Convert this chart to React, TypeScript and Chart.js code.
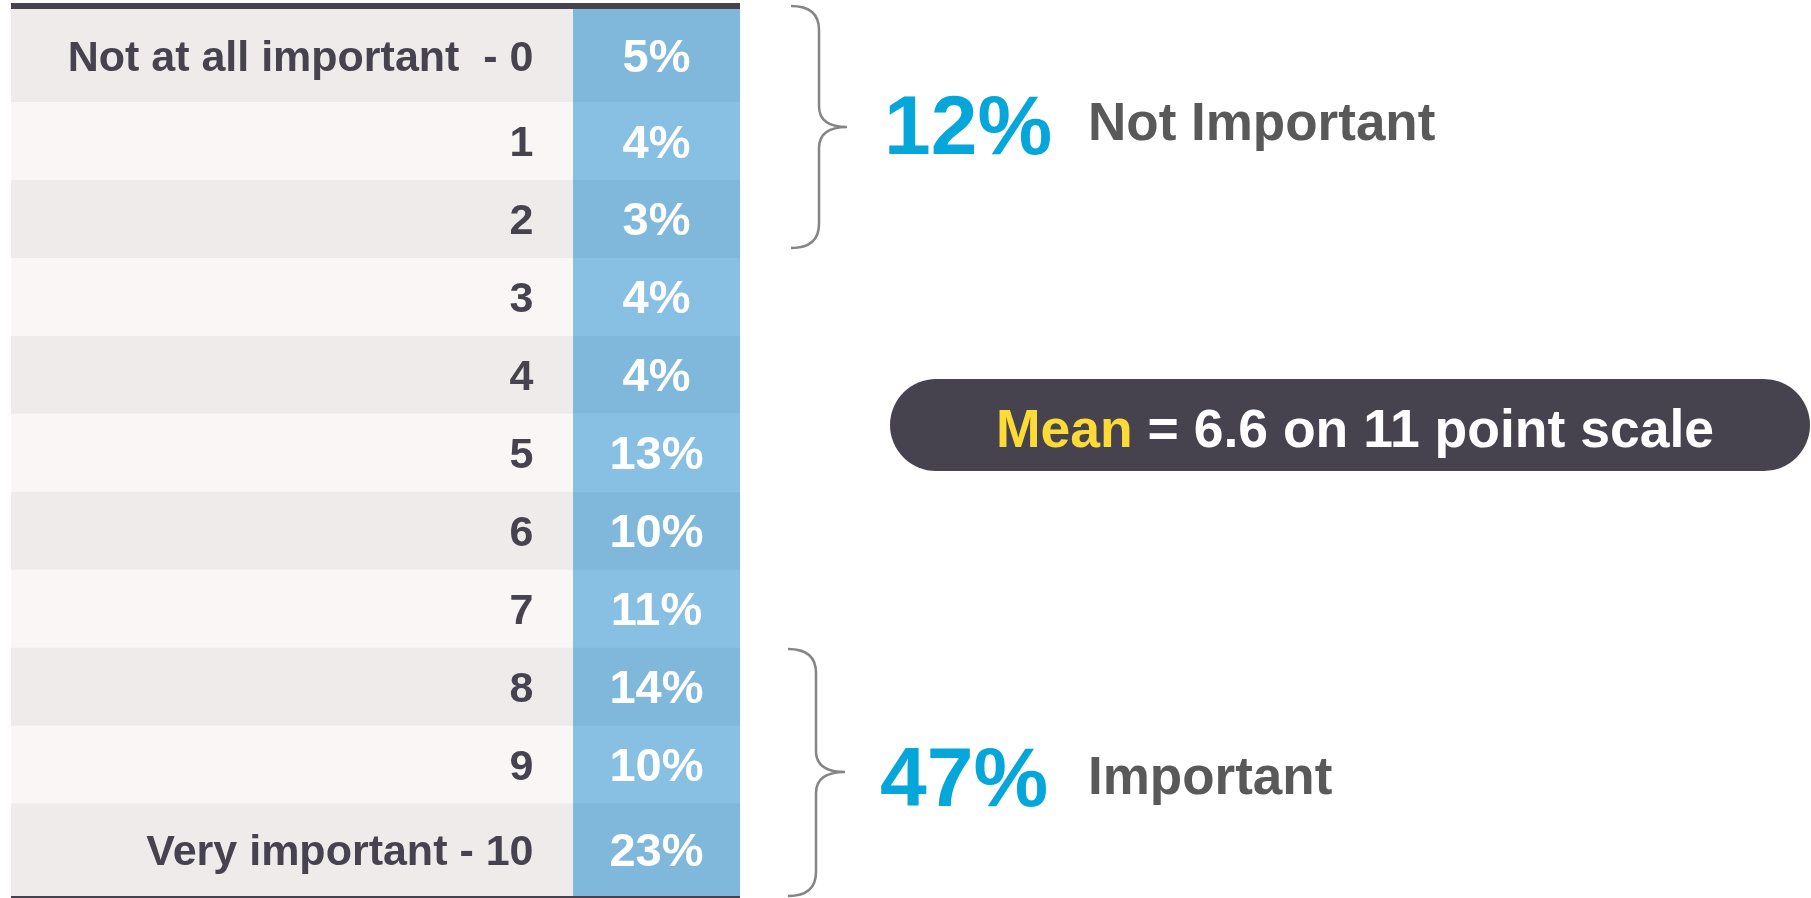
import React, { useEffect, useRef } from "react";
import { Chart, registerables } from "chart.js";

Chart.register(...registerables);

// ---- data ----
const SCALE_LABELS = [
  "Not at all important  - 0",
  "1",
  "2",
  "3",
  "4",
  "5",
  "6",
  "7",
  "8",
  "9",
  "Very important - 10",
];
const SCALE_POINTS = [0, 1, 2, 3, 4, 5, 6, 7, 8, 9, 10];
const SHARES = [5, 4, 3, 4, 4, 13, 10, 11, 14, 10, 23];
const NOT_IMPORTANT_POINTS = [0, 1, 2];
const IMPORTANT_POINTS = [8, 9, 10];
const MEAN_SCORE = 6.6;
const SCALE_SIZE = 11;

// ---- layout / style constants ----
const END_ROW_WEIGHT = 1.19;
const FONT_FAMILY = '"Liberation Sans", Arial, Helvetica, sans-serif';
const DARK = "#46434f";
const BLUE_TEXT = "#05a6da";
const GREY_TEXT = "#595959";
const TABLE_LEFT = 11;
const TABLE_TOP = 9;
const TABLE_HEIGHT = 887;
const LABEL_COL_W = 562;
const VALUE_COL_W = 167;

type ColumnProps = {
  texts: string[];
  fills: [string, string];
  align: "right" | "center";
  fontSize: number;
  textColor: string;
  inset: number;
  left: number;
  width: number;
};

function TableColumn({ texts, fills, align, fontSize, textColor, inset, left, width }: ColumnProps) {
  const ref = useRef<HTMLCanvasElement>(null);
  useEffect(() => {
    if (!ref.current) return;
    const n = texts.length;
    const weights = texts.map((_, i) => (i === 0 || i === n - 1 ? END_ROW_WEIGHT : 1));
    const bounds: number[] = [0];
    weights.forEach((w) => bounds.push(bounds[bounds.length - 1] + w));

    const textPlugin = {
      id: "cellText",
      afterDatasetsDraw(chart: any) {
        const c = chart.ctx as CanvasRenderingContext2D;
        const area = chart.chartArea;
        c.save();
        c.font = `bold ${fontSize}px ${FONT_FAMILY}`;
        c.fillStyle = textColor;
        c.textAlign = align;
        c.textBaseline = "alphabetic";
        chart.data.datasets.forEach((_: any, di: number) => {
          const el = chart.getDatasetMeta(di).data[0] as any;
          const cy = (el.y + el.base) / 2;
          const x = align === "right" ? area.right - inset : el.x;
          c.fillText(texts[di], x, cy + fontSize * 0.358);
        });
        c.restore();
      },
    };

    const chart = new Chart(ref.current, {
      type: "bar",
      data: {
        labels: [""],
        datasets: texts.map((t, i) => ({
          label: t,
          data: [[bounds[i], bounds[i + 1]]] as any,
          backgroundColor: fills[i % 2],
          borderWidth: 0,
          grouped: false,
          barPercentage: 1,
          categoryPercentage: 1,
        })),
      },
      options: {
        animation: false,
        responsive: false,
        maintainAspectRatio: false,
        events: [],
        layout: { padding: 0 },
        scales: {
          x: { display: false },
          y: { display: false, reverse: true, min: 0, max: bounds[n] },
        },
        plugins: { legend: { display: false }, tooltip: { enabled: false } },
      },
      plugins: [textPlugin],
    });
    return () => chart.destroy();
  }, []);
  return (
    <canvas
      ref={ref}
      width={width}
      height={TABLE_HEIGHT}
      style={{ position: "absolute", left, top: TABLE_TOP, width, height: TABLE_HEIGHT }}
    />
  );
}

export default function App() {
  useEffect(() => {
    document.body.style.overflow = "hidden";
  }, []);
  const sumFor = (pts: number[]) =>
    pts.reduce((s, p) => s + SHARES[SCALE_POINTS.indexOf(p)], 0);
  const notImportant = sumFor(NOT_IMPORTANT_POINTS);
  const important = sumFor(IMPORTANT_POINTS);

  return (
    <>
      <div style={{ position: "absolute", left: TABLE_LEFT, top: 3, width: LABEL_COL_W + VALUE_COL_W, height: 6, background: DARK }} />
      <TableColumn
        texts={SCALE_LABELS}
        fills={["#efebea", "#f9f6f5"]}
        align="right"
        fontSize={43}
        textColor={DARK}
        inset={39.5}
        left={TABLE_LEFT}
        width={LABEL_COL_W}
      />
      <TableColumn
        texts={SHARES.map((v) => `${v}%`)}
        fills={["#7fb8db", "#88c0e3"]}
        align="center"
        fontSize={47}
        textColor="#ffffff"
        inset={0}
        left={TABLE_LEFT + LABEL_COL_W}
        width={VALUE_COL_W}
      />
      <div style={{ position: "absolute", left: TABLE_LEFT, top: 896, width: LABEL_COL_W + VALUE_COL_W, height: 2, background: DARK }} />
      <svg
        width={1811}
        height={898}
        style={{ position: "absolute", left: 0, top: 0, pointerEvents: "none" }}
        fontFamily={FONT_FAMILY}
        fontWeight="bold"
      >
        <path
          d="M 791 6 Q 819 6 819 30 L 819 106 Q 819 127 847 127 Q 819 127 819 148 L 819 224 Q 819 248 791 248"
          fill="none"
          stroke="#858585"
          strokeWidth={2.5}
        />
        <path
          d="M 788 649 Q 816 649 816 673 L 816 751 Q 816 772 845 772 Q 816 772 816 793 L 816 872 Q 816 896 788 896"
          fill="none"
          stroke="#858585"
          strokeWidth={2.5}
        />
        <text x={884} y={154} fontSize={84} fill={BLUE_TEXT}>{`${notImportant}%`}</text>
        <text x={1088} y={140} fontSize={53} fill={GREY_TEXT}>Not Important</text>
        <text x={880} y={806} fontSize={84} fill={BLUE_TEXT}>{`${important}%`}</text>
        <text x={1088} y={794} fontSize={53} fill={GREY_TEXT}>Important</text>
        <rect x={890} y={379} width={920} height={92} rx={46} ry={46} fill={DARK} />
        <text x={1355} y={447} fontSize={53.5} textAnchor="middle" style={{ whiteSpace: "pre" }}>
          <tspan fill="#fddb36">Mean</tspan>
          <tspan fill="#ffffff">{` = ${MEAN_SCORE} on ${SCALE_SIZE} point scale`}</tspan>
        </text>
      </svg>
    </>
  );
}
